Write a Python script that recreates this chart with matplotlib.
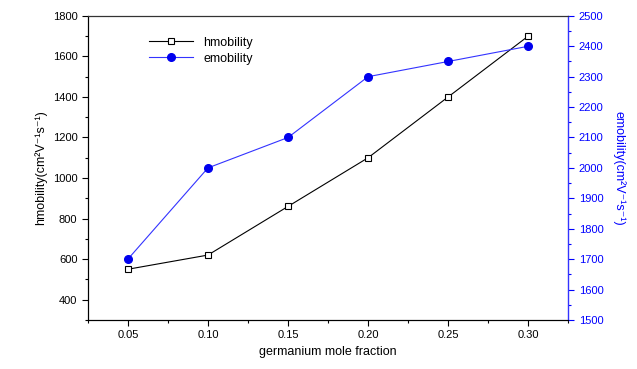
import matplotlib
matplotlib.use('Agg')
import matplotlib.pyplot as plt
from matplotlib.ticker import MultipleLocator

plt.rcParams['font.family'] = ['Liberation Sans', 'DejaVu Sans']

# germanium mole fraction vs mobility
x = [0.05, 0.10, 0.15, 0.20, 0.25, 0.30]
hmob = [550, 620, 860, 1100, 1400, 1700]
emob = [1700, 2000, 2100, 2300, 2350, 2400]
xticks = [0.05, 0.10, 0.15, 0.20, 0.25, 0.30]
xlabels = ['0.05', '0.10', '0.15', '0.20', '0.25', '0.30']

fig = plt.figure(figsize=(6.37, 3.69), dpi=100)
ax = fig.add_axes([0.138, 0.133, 0.754, 0.824])
ax2 = ax.twinx()

l1, = ax.plot(x, hmob, color='black', lw=0.8, marker='s', ms=5,
              mfc='white', mec='black', mew=0.8, label='hmobility')
l2, = ax2.plot(x, emob, color='#3333ff', lw=0.8, marker='o', ms=5.5,
               mfc='#0000ee', mec='#0000ee', label='emobility')

ax.set_xlim(0.025, 0.325)
ax.set_ylim(300, 1800)
ax2.set_ylim(1500, 2500)

ax.set_xticks(xticks)
ax.set_xticklabels(xlabels)
ax.xaxis.set_minor_locator(MultipleLocator(0.025))
ax.set_yticks([400, 600, 800, 1000, 1200, 1400, 1600, 1800])
ax.yaxis.set_minor_locator(MultipleLocator(100))
ax2.yaxis.set_major_locator(MultipleLocator(100))
ax2.yaxis.set_minor_locator(MultipleLocator(50))

ax.tick_params(which='both', direction='out', labelsize=8, width=0.8)
ax.tick_params(which='major', length=4)
ax.tick_params(which='minor', length=2.5)
ax2.tick_params(which='both', direction='out', labelsize=8, colors='blue', width=0.8)
ax2.tick_params(which='major', length=4)
ax2.tick_params(which='minor', length=2.5)

ax2.spines['right'].set_color('#3333ff')
ax.spines['right'].set_visible(False)
for s in ['top', 'left', 'bottom']:
    ax.spines[s].set_linewidth(0.8)
ax2.spines['right'].set_linewidth(1.0)
ax2.spines['top'].set_linewidth(0.8)
ax2.spines['top'].set_color('#333333')

ax.set_xlabel('germanium mole fraction', fontsize=9)
ax.set_ylabel('hmobility(cm²V⁻¹s⁻¹)', fontsize=9)
ax2.set_ylabel('emobility(cm²V⁻¹s⁻¹)', fontsize=9, color='blue',
               rotation=270, labelpad=16)

ax.legend([l1, l2], ['hmobility', 'emobility'], loc='upper left',
          bbox_to_anchor=(0.11, 0.96), frameon=False, fontsize=9,
          handlelength=3.5, labelspacing=0.3, borderpad=0.2)

fig.savefig('out.png', dpi=100)
